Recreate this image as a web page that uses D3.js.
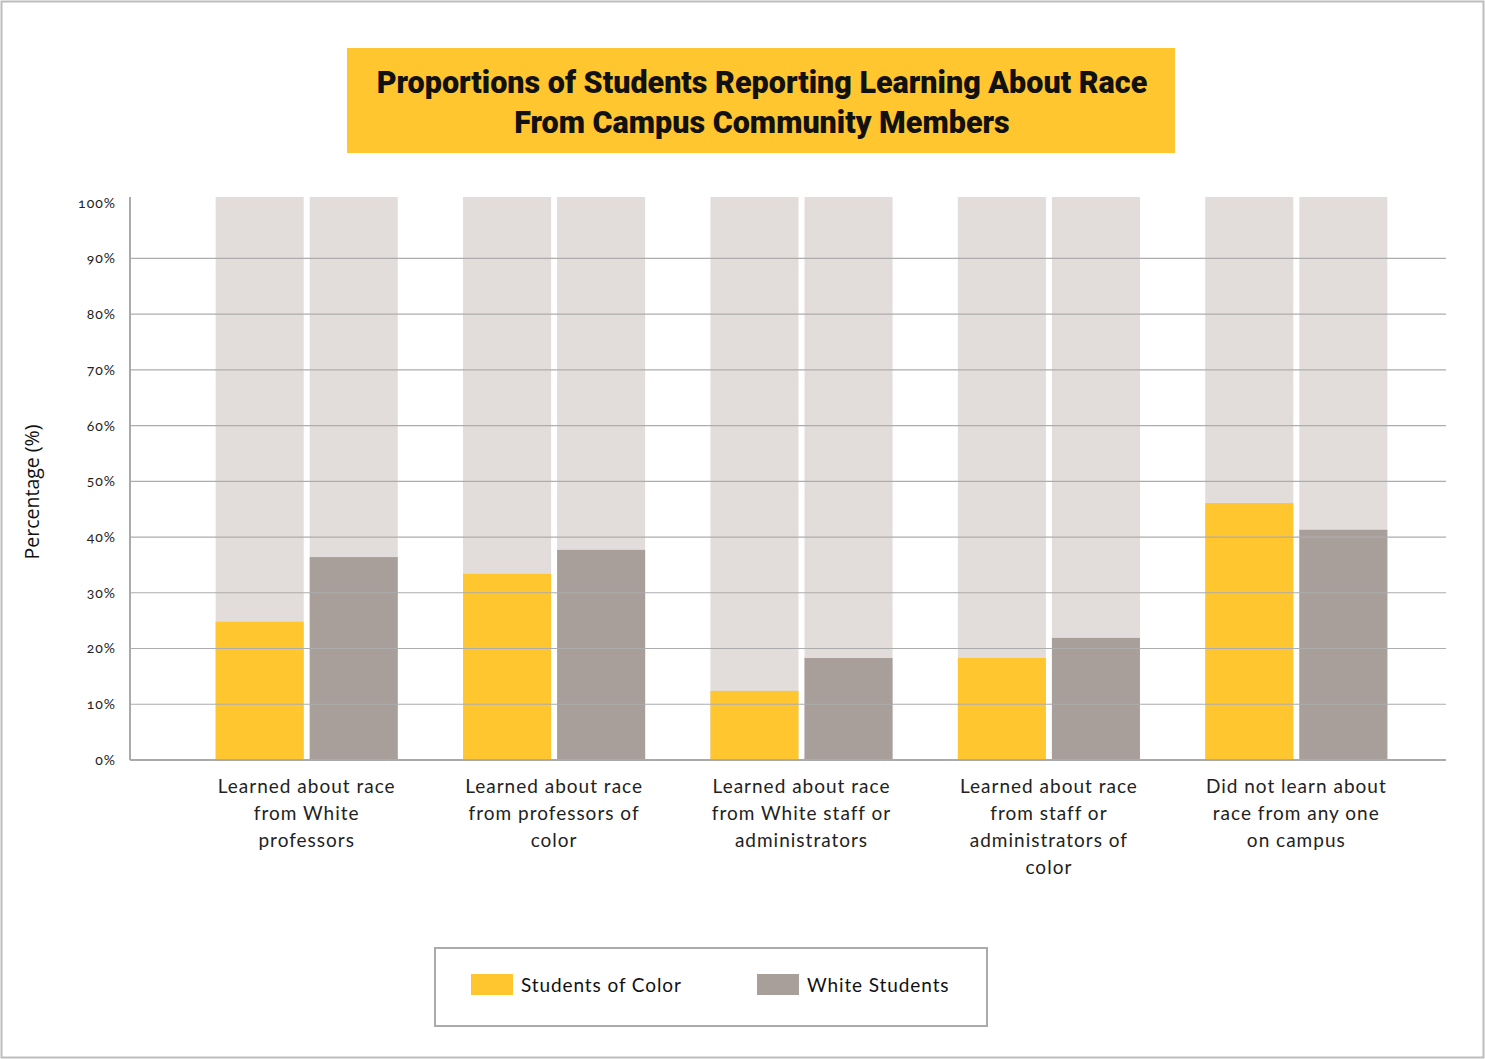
<!DOCTYPE html>
<html>
<head>
<meta charset="utf-8">
<script src="https://cdn.jsdelivr.net/npm/d3@7"></script>
<style>
  html, body { margin: 0; padding: 0; background: #fff; }
  svg { display: block; }
</style>
</head>
<body>
<svg id="chart" width="1485" height="1059"></svg>
<script>
// Survey categories (label lines) and the share of each student group, in percent
const categories = [
  ["Learned about race", "from White", "professors"],
  ["Learned about race", "from professors of", "color"],
  ["Learned about race", "from White staff or", "administrators"],
  ["Learned about race", "from staff or", "administrators of", "color"],
  ["Did not learn about", "race from any one", "on campus"]
];
const studentsOfColor = [24.8, 33.4, 12.4, 18.3, 46.1];
const whiteStudents   = [36.4, 37.7, 18.3, 21.9, 41.3];
const yTicks = [0, 10, 20, 30, 40, 50, 60, 70, 80, 90, 100];
const seriesNames = ["Students of Color", "White Students"];
const seriesColors = ["#FFC62F", "#A89E9A"];

(function () {
const svg = d3.select("#chart");
const W = 1485, H = 1059;

// outer frame
svg.append("rect").attr("x", 1.5).attr("y", 1.5).attr("width", W - 3).attr("height", H - 3)
  .attr("fill", "#fff").attr("stroke", "#bdbdbd").attr("stroke-width", 2);

// title banner
svg.append("rect").attr("x", 347).attr("y", 48).attr("width", 828).attr("height", 105)
  .attr("fill", "#FFC62F");
const titleLines = ["Proportions of Students Reporting Learning About Race", "From Campus Community Members"];
svg.append("g").selectAll("text").data(titleLines).join("text")
  .attr("x", 762).attr("y", (d, i) => 93 + i * 40)
  .attr("text-anchor", "middle")
  .attr("font-family", "Roboto, sans-serif").attr("font-weight", 900)
  .attr("font-size", 30.5).attr("fill", "#111")
  .text(d => d);

// scales
const plotLeft = 130, plotRight = 1446, plotTop = 197, plotBottom = 760;
const y = d3.scaleLinear().domain([0, 101]).range([plotBottom, plotTop]);
const x0 = d3.scaleBand().domain(d3.range(categories.length))
  .range([183, 1420]).paddingInner(0.264).paddingOuter(0.132);
const x1 = d3.scaleBand().domain([0, 1]).range([0, x0.bandwidth()]).paddingInner(0.064);

// bars: light full-height track behind each value bar
const groups = svg.append("g").selectAll("g").data(categories).join("g")
  .attr("transform", (d, i) => `translate(${x0(i)},0)`);
groups.each(function (d, i) {
  const vals = [studentsOfColor[i], whiteStudents[i]];
  const g = d3.select(this);
  g.selectAll("rect.track").data(vals).join("rect").attr("class", "track")
    .attr("x", (v, j) => x1(j)).attr("width", x1.bandwidth())
    .attr("y", y(101)).attr("height", y(0) - y(101))
    .attr("fill", "#E2DDDB");
  g.selectAll("rect.val").data(vals).join("rect").attr("class", "val")
    .attr("x", (v, j) => x1(j)).attr("width", x1.bandwidth())
    .attr("y", v => y(v)).attr("height", v => y(0) - y(v))
    .attr("fill", (v, j) => seriesColors[j]);
});

// gridlines drawn over the bars
svg.append("g").selectAll("line").data(yTicks.filter(t => t > 0 && t < 100)).join("line")
  .attr("x1", plotLeft).attr("x2", plotRight)
  .attr("y1", d => y(d)).attr("y2", d => y(d))
  .attr("stroke", "#adadad").attr("stroke-width", 1.2);

// y axis
const yAxis = d3.axisLeft(y).tickValues(yTicks).tickSize(0).tickPadding(14)
  .tickFormat(d => d + "%");
const ya = svg.append("g").attr("transform", `translate(${plotLeft},0)`).call(yAxis);
ya.select(".domain").remove();
ya.selectAll("text").attr("font-family", "Lato, sans-serif").attr("font-size", 14)
  .attr("letter-spacing", 1).style("font-variant-numeric", "oldstyle-nums")
  .attr("fill", "#222");
svg.append("line").attr("x1", plotLeft).attr("x2", plotLeft).attr("y1", plotTop).attr("y2", plotBottom)
  .attr("stroke", "#aaa").attr("stroke-width", 2);
svg.append("line").attr("x1", plotLeft).attr("x2", plotRight).attr("y1", plotBottom).attr("y2", plotBottom)
  .attr("stroke", "#aaa").attr("stroke-width", 2);

// y axis title
svg.append("text").attr("transform", "translate(39,492) rotate(-90)")
  .attr("text-anchor", "middle").attr("font-family", "'Open Sans', sans-serif")
  .attr("font-size", 19.5).attr("fill", "#111").text("Percentage (%)");

// category labels
const xl = svg.append("g");
categories.forEach((lines, i) => {
  const cx = x0(i) + x0.bandwidth() / 2;
  xl.append("text").attr("text-anchor", "middle")
    .attr("font-family", "Lato, sans-serif").attr("font-size", 19).attr("letter-spacing", 1)
    .attr("fill", "#222")
    .selectAll("tspan").data(lines).join("tspan")
    .attr("x", cx).attr("y", (d, k) => 793 + k * 27).text(d => d);
});

// legend
const lg = svg.append("g");
lg.append("rect").attr("x", 435).attr("y", 948).attr("width", 552).attr("height", 78)
  .attr("fill", "#fff").attr("stroke", "#aaa").attr("stroke-width", 2);
const lx = [471, 757];
seriesNames.forEach((name, i) => {
  lg.append("rect").attr("x", lx[i]).attr("y", 974).attr("width", 42).attr("height", 21)
    .attr("fill", seriesColors[i]);
  lg.append("text").attr("x", lx[i] + 50).attr("y", 992)
    .attr("font-family", "Lato, sans-serif").attr("font-size", 19).attr("letter-spacing", 0.9)
    .attr("fill", "#111")
    .text(name);
});
})();
</script>
</body>
</html>
